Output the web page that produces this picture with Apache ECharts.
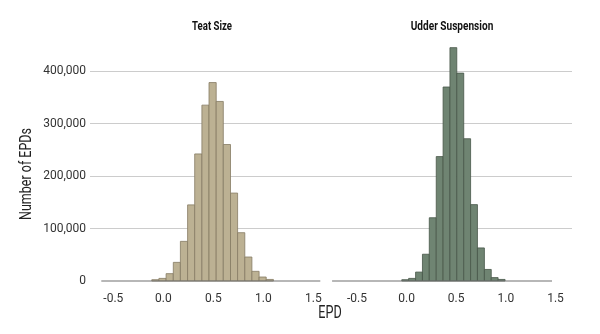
<!DOCTYPE html>
<html><head><meta charset="utf-8">
<script src="https://cdn.jsdelivr.net/npm/echarts@6/dist/echarts.min.js"></script>
<style>html,body{margin:0;padding:0;background:#fff}#c{width:600px;height:334px}</style>
</head><body><div id="c"></div>
<script>
const yTicks = [0, 100000, 200000, 300000, 400000];
const xTicks = [-0.5, 0, 0.5, 1, 1.5];
const panelTitles = ['Teat Size', 'Udder Suspension'];
const yAxisName = 'Number of EPDs';
const xAxisName = 'EPD';

const teatSizeEdges = [-0.115, -0.044, 0.028, 0.100, 0.171, 0.243, 0.314, 0.386, 0.457, 0.529, 0.600, 0.672, 0.743, 0.815, 0.886, 0.958, 1.029, 1.101];
const teatSizeCounts = [2500, 5000, 14000, 35500, 75500, 145000, 242000, 335000, 378000, 342000, 260000, 167500, 92000, 45700, 18400, 7600, 3000];
const teatSizeBaseline = [-0.62, 1.57];

const udderEdges = [-0.048, 0.021, 0.091, 0.160, 0.229, 0.299, 0.368, 0.437, 0.506, 0.576, 0.645, 0.714, 0.784, 0.853, 0.922, 0.992];
const udderCounts = [2500, 5000, 17000, 51000, 120500, 237000, 369500, 444500, 396000, 271000, 145500, 63000, 22000, 6500, 3000];
const udderBaseline = [-0.75, 1.465];

function histData(edges, counts) { return counts.map((c, i) => [edges[i], edges[i + 1], c]); }

function barRenderer(fill, stroke) {
  return function (params, api) {
    const p0 = api.coord([api.value(0), 0]);
    const p1 = api.coord([api.value(1), api.value(2)]);
    return { type: 'rect', shape: { x: p0[0], y: p1[1], width: p1[0] - p0[0], height: p0[1] - p1[1] },
      style: { fill: fill, stroke: stroke, lineWidth: 0.8 } };
  };
}
function baseRenderer(params, api) {
  const a = api.coord([api.value(0), 0]);
  const b = api.coord([api.value(1), 0]);
  return { type: 'line', shape: { x1: a[0], y1: a[1], x2: b[0], y2: b[1] }, style: { stroke: '#707070', lineWidth: 1.2 } };
}

const TOP = 71, H = 210;
const chart = echarts.init(document.getElementById('c'), null, { renderer: 'canvas' });
const xHidden = { type: 'value', show: false, min: -0.5, max: 1.5 };
function xPanel(gi) {
  return { type: 'value', gridIndex: gi, min: -0.5, max: 1.5, interval: 0.5,
    axisLine: { show: false }, axisTick: { show: false }, splitLine: { show: false },
    axisLabel: { color: '#333', fontSize: 12, fontFamily: 'Roboto', margin: 12, formatter: v => v.toFixed(1),
      showMinLabel: true, showMaxLabel: true } };
}
function yHidden(gi) { return { type: 'value', gridIndex: gi, min: 0, max: 400000, show: false, splitLine: { show: false } }; }

chart.setOption({
  animation: false,
  grid: [
    { left: 90, width: 482, top: TOP, height: H },
    { left: 113.3, width: 200, top: TOP, height: H },
    { left: 356.9, width: 198.6, top: TOP, height: H }
  ],
  xAxis: [Object.assign({ gridIndex: 0 }, xHidden), xPanel(1), xPanel(2)],
  yAxis: [
    { type: 'value', gridIndex: 0, min: 0, max: 400000, interval: 100000,
      axisLine: { show: false }, axisTick: { show: false },
      axisLabel: { color: '#333', fontSize: 12, fontFamily: 'Roboto', margin: 4,
        formatter: v => v.toLocaleString('en-US') },
      splitLine: { show: true, lineStyle: { color: ['rgba(0,0,0,0)', '#cccccc', '#cccccc', '#cccccc', '#cccccc'], width: 1 } } },
    yHidden(1), yHidden(2)
  ],
  series: [
    { type: 'custom', xAxisIndex: 1, yAxisIndex: 1, data: histData(teatSizeEdges, teatSizeCounts),
      encode: { x: [0, 1], y: 2 }, renderItem: barRenderer('#bcb193', '#857b63'), clip: false, z: 2 },
    { type: 'custom', xAxisIndex: 1, yAxisIndex: 1, data: [teatSizeBaseline],
      encode: { x: [0, 1] }, renderItem: baseRenderer, clip: false, z: 3 },
    { type: 'custom', xAxisIndex: 2, yAxisIndex: 2, data: histData(udderEdges, udderCounts),
      encode: { x: [0, 1], y: 2 }, renderItem: barRenderer('#6f8472', '#475749'), clip: false, z: 2 },
    { type: 'custom', xAxisIndex: 2, yAxisIndex: 2, data: [udderBaseline],
      encode: { x: [0, 1] }, renderItem: baseRenderer, clip: false, z: 3 }
  ],
  graphic: [
    { type: 'text', x: 212, y: 27, scaleX: 0.8, style: { text: panelTitles[0], font: 'bold 12px Roboto', fill: '#111', align: 'center', verticalAlign: 'middle' } },
    { type: 'text', x: 452, y: 27, scaleX: 0.84, style: { text: panelTitles[1], font: 'bold 12px Roboto', fill: '#111', align: 'center', verticalAlign: 'middle' } },
    { type: 'text', x: 27, y: 174, rotation: Math.PI / 2, scaleX: 0.78, style: { text: yAxisName, font: '16px Roboto', fill: '#222', align: 'center', verticalAlign: 'middle' } },
    { type: 'text', x: 330, y: 313, scaleX: 0.7, style: { text: xAxisName, font: '18px Roboto', fill: '#222', align: 'center', verticalAlign: 'middle' } }
  ]
});
</script></body></html>
